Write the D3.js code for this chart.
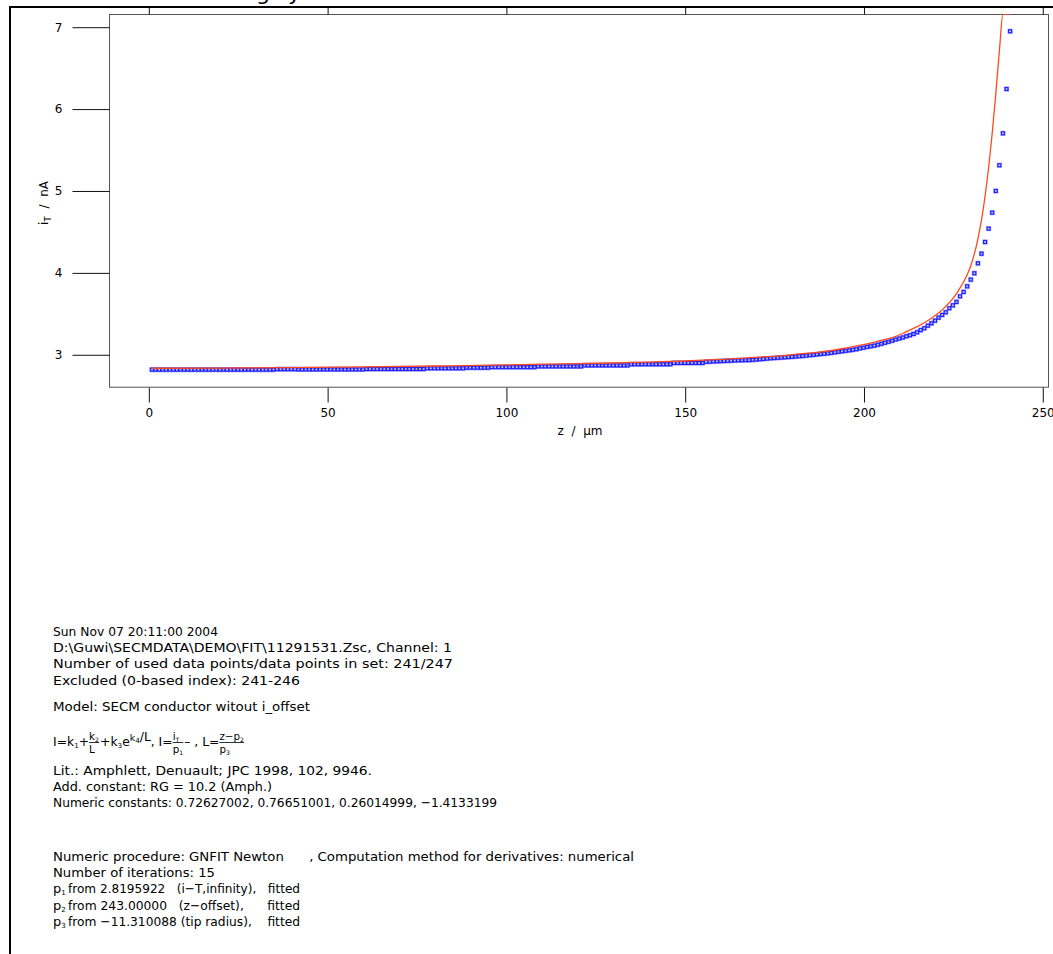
<!DOCTYPE html>
<html>
<head>
<meta charset="utf-8">
<script src="https://cdn.jsdelivr.net/npm/d3@7"></script>
<style>
  html, body { margin: 0; padding: 0; background: #ffffff; }
  svg { display: block; }
  text { font-family: "DejaVu Sans", "Liberation Sans", Arial, sans-serif; fill: #000; }
</style>
</head>
<body>
<script>
// ---------------- DATA ----------------
// measured points, z = 1..241 µm (241 used points)
const zPoints = d3.range(1, 242);
const iMeasured = [
  2.812,2.812,2.812,2.812,2.812,2.812,2.812,2.812,2.812,2.812,
  2.812,2.812,2.812,2.812,2.812,2.812,2.812,2.812,2.812,2.812,
  2.812,2.812,2.812,2.812,2.812,2.812,2.812,2.812,2.812,2.812,
  2.812,2.812,2.812,2.812,2.812,
  2.818,2.818,2.818,2.818,2.818,2.818,
  2.815,2.815,2.815,2.815,2.815,2.815,2.815,2.815,2.815,2.815,
  2.815,2.815,2.815,2.815,2.815,2.815,2.815,2.815,2.815,
  2.820,2.820,2.820,2.820,2.820,2.820,2.820,2.820,2.820,2.820,
  2.820,2.820,2.820,2.820,2.820,2.820,2.820,
  2.829,2.829,2.829,2.829,2.829,2.829,2.829,2.829,2.829,2.829,2.829,
  2.836,2.836,2.836,2.836,2.836,2.836,2.836,
  2.843,2.843,2.843,2.843,2.843,2.843,2.843,2.843,2.843,2.843,2.843,2.843,2.843,
  2.852,2.852,2.852,2.852,2.852,2.852,2.852,2.852,2.852,2.852,2.852,2.852,2.852,
  2.864,2.864,2.864,2.864,2.864,2.864,2.864,2.864,2.864,2.864,2.864,2.864,2.864,
  2.878,2.878,2.878,2.878,2.878,2.878,2.878,2.878,2.878,2.878,2.878,2.878,
  2.894,2.894,2.894,2.894,2.894,2.894,2.894,2.894,2.894,
  2.908,2.910,2.912,2.914,2.916,2.918,2.920,
  2.922,2.924,2.926,2.927,2.928,2.929,
  2.932,2.935,2.939,2.943,2.947,2.951,2.954,2.957,2.960,2.963,
  2.966,2.969,2.972,2.976,2.979,2.984,2.989,2.993,2.998,3.003,
  3.007,3.011,3.017,3.024,3.030,3.036,3.042,3.048,3.055,3.062,
  3.072,3.080,3.090,3.097,3.105,3.116,3.128,3.140,3.153,3.166,
  3.180,3.192,3.205,3.220,3.232,3.248,3.269,3.295,3.317,3.349,
  3.378,3.410,3.447,3.480,3.513,3.562,3.598,3.639,3.708,3.761,
  3.830,3.911,3.989,4.111,4.228,4.371,4.534,4.729,4.994,5.308,
  5.698,6.239,6.944
];
// fitted model curve
const fitZ = [1, 20, 40, 60, 80, 100, 120, 140, 150, 160, 168, 173, 178, 182, 187, 192, 196, 201,
  205.5, 209.3, 212, 215, 217, 219, 221, 223, 225, 226, 227, 228, 229, 230, 231, 232, 233, 234,
  235, 236, 237, 238, 239, 240, 241];
const fitI = [2.829, 2.832, 2.838, 2.847, 2.857, 2.870, 2.886, 2.905, 2.918, 2.938, 2.958, 2.971,
  2.983, 3.004, 3.024, 3.052, 3.085, 3.126, 3.175, 3.223, 3.276, 3.337, 3.385, 3.440, 3.505,
  3.585, 3.680, 3.740, 3.810, 3.885, 3.970, 4.080, 4.225, 4.410, 4.640, 4.930, 5.280, 5.700,
  6.180, 6.700, 7.250, 7.85, 8.5];
const xTicks = [0, 50, 100, 150, 200, 250];
const yTicks = [3, 4, 5, 6, 7];
const xDomain = [-11, 251.6];
const yDomain = [2.604, 7.155];

const infoLines1 = [
  "Sun Nov 07 20:11:00 2004",
  "D:\\Guwi\\SECMDATA\\DEMO\\FIT\\11291531.Zsc, Channel: 1",
  "Number of used data points/data points in set: 241/247",
  "Excluded (0-based index): 241-246"
];
const modelLine = "Model: SECM conductor witout i_offset";
const infoLines2 = [
  "Lit.: Amphlett, Denuault; JPC 1998, 102, 9946.",
  "Add. constant: RG = 10.2 (Amph.)",
  "Numeric constants: 0.72627002, 0.76651001, 0.26014999, \u22121.4133199"
];
const infoLines3 = [
  "Numeric procedure: GNFIT Newton      , Computation method for derivatives: numerical",
  "Number of iterations: 15"
];
const paramNames = ["1", "2", "3"];
const paramTexts = [
  "from 2.8195922   (i\u2212T,infinity),   fitted",
  "from 243.00000   (z\u2212offset),      fitted",
  "from \u221211.310088 (tip radius),    fitted"
];

// ---------------- LAYOUT ----------------
const W = 1053, H = 954;
const plot = { left: 109, right: 1048, top: 14, bottom: 386.7 };

const svg = d3.select("body").append("svg").attr("width", W).attr("height", H);

const x = d3.scaleLinear().domain(xDomain).range([plot.left, plot.right]);
const y = d3.scaleLinear().domain(yDomain).range([plot.bottom, plot.top]);
const yClamp = y.copy().clamp(true);

// page frame
svg.append("line").attr("x1", 10).attr("x2", W).attr("y1", 7).attr("y2", 7)
  .attr("stroke", "#000").attr("stroke-width", 2);
svg.append("line").attr("x1", 10).attr("x2", 10).attr("y1", 6).attr("y2", H)
  .attr("stroke", "#000").attr("stroke-width", 2);

// cut-off title remnants (title lies above the page edge)
svg.append("text").attr("x", 256).attr("y", -0.5).attr("font-size", 22)
  .attr("font-family", "Liberation Sans, Arial, sans-serif").text("g");
svg.append("text").attr("x", 288).attr("y", -0.5).attr("font-size", 22)
  .attr("font-family", "Liberation Sans, Arial, sans-serif").text("y");

// plot frame
svg.append("rect")
  .attr("x", plot.left + 0.5).attr("y", plot.top + 0.5)
  .attr("width", plot.right - plot.left).attr("height", plot.bottom - plot.top)
  .attr("fill", "none").attr("stroke", "#555").attr("stroke-width", 1);

// axes
const gx = svg.append("g").attr("transform", `translate(0.5,${Math.round(plot.bottom) + 0.5})`)
  .call(d3.axisBottom(x).tickValues(xTicks).tickSize(15).tickPadding(6).tickFormat(d3.format("d")));
const gxTop = svg.append("g").attr("transform", `translate(0.5,${plot.top + 0.5})`)
  .call(d3.axisTop(x).tickValues(xTicks).tickSize(7).tickFormat(""));
const gy = svg.append("g").attr("transform", `translate(${plot.left + 0.5},0.5)`)
  .call(d3.axisLeft(y).tickValues(yTicks).tickSize(37).tickPadding(10).tickFormat(d3.format("d")));
[gx, gxTop, gy].forEach(g => {
  g.select(".domain").remove();
  g.selectAll(".tick line").attr("stroke", "#111");
  g.selectAll("text").attr("font-size", 12)
    .attr("font-family", "DejaVu Sans, Liberation Sans, Arial, sans-serif").attr("fill", "#000");
});

// axis titles
svg.append("text").attr("x", 580).attr("y", 435).attr("text-anchor", "middle")
  .attr("font-size", 12).style("white-space", "pre").text("z  /  \u00b5m");
const yl = svg.append("text").attr("transform", "translate(48,203) rotate(-90)")
  .attr("text-anchor", "middle").attr("font-size", 12);
yl.append("tspan").text("i");
yl.append("tspan").attr("font-size", 9).attr("dy", 3).text("T");
yl.append("tspan").attr("dy", -3).style("white-space", "pre").text("  /  nA");

// clip
svg.append("clipPath").attr("id", "clip").append("rect")
  .attr("x", plot.left).attr("y", plot.top).attr("width", plot.right - plot.left)
  .attr("height", plot.bottom - plot.top);

const gData = svg.append("g").attr("clip-path", "url(#clip)");
const pts = zPoints.map((z, i) => [z, iMeasured[i]]);

// measured squares (soft halo + blue outline)
gData.selectAll("rect.halo").data(pts)
  .join("rect").attr("class", "halo")
  .attr("x", d => x(d[0]) - 1.5).attr("y", d => y(d[1]) - 1.5)
  .attr("width", 3).attr("height", 3)
  .attr("fill", "none").attr("stroke", "#a8a8ff").attr("stroke-width", 2.2);
gData.selectAll("rect.pt").data(pts)
  .join("rect").attr("class", "pt")
  .attr("x", d => x(d[0]) - 1.5).attr("y", d => y(d[1]) - 1.5)
  .attr("width", 3).attr("height", 3)
  .attr("fill", "none")
  .attr("stroke", "#1f1fff").attr("stroke-width", 1.1);

// fit curve
const line = d3.line().x(d => x(d[0])).y(d => yClamp(d[1])).curve(d3.curveMonotoneX);
gData.append("path").datum(fitZ.map((z, i) => [z, fitI[i]]))
  .attr("d", line).attr("fill", "none").attr("stroke", "#ff4a1c").attr("stroke-width", 1.3);

// ---------------- TEXT BLOCK ----------------
const tx = 53, fs = 13;
const lh = 16.2;
function infoText(t, yy, endX) {
  const el = svg.append("text").attr("x", tx).attr("y", yy).attr("font-size", fs)
    .style("white-space", "pre").text(t);
  if (endX) el.attr("textLength", endX - tx).attr("lengthAdjust", "spacingAndGlyphs");
  return el;
}
const ends1 = [218, 452, 453, 300];
infoLines1.forEach((t, i) => infoText(t, 636 + i * lh, ends1[i]));
infoText(modelLine, 711, 310);

// formula
const fBase = 746;
const fg = svg.append("g");
let cx = tx;
function plain(parts) {
  const t = fg.append("text").attr("x", cx).attr("y", fBase).attr("font-size", 12);
  parts.forEach(p => {
    const s = t.append("tspan").text(p[0]);
    if (p[1] === "sub") s.attr("font-size", 7).attr("dy", 2);
    else if (p[1] === "sup") s.attr("font-size", 9).attr("dy", -5);
    if (p[2] !== undefined) s.attr("dy", p[2]);
  });
  cx += t.node().getComputedTextLength();
}
function frac(num, den) {
  const tn = fg.append("text").attr("x", cx).attr("y", fBase - 6).attr("font-size", 10);
  num.forEach(p => { const s = tn.append("tspan").text(p[0]); if (p[1] === "sub") s.attr("font-size", 6).attr("dy", 2); });
  const td = fg.append("text").attr("x", cx).attr("y", fBase + 7).attr("font-size", 10);
  den.forEach(p => { const s = td.append("tspan").text(p[0]); if (p[1] === "sub") s.attr("font-size", 6).attr("dy", 2); });
  const w = Math.max(tn.node().getComputedTextLength(), td.node().getComputedTextLength());
  fg.append("line").attr("x1", cx).attr("x2", cx + w).attr("y1", fBase - 3.5).attr("y2", fBase - 3.5)
    .attr("stroke", "#000").attr("stroke-width", 0.8);
  cx += w + 1;
}
plain([["I=k"], ["1", "sub"], ["+", null, -2]]);
frac([["k"], ["2", "sub"]], [["L"]]);
plain([["+k"], ["3", "sub"], ["e", null, -2], ["k", "sup", -5], ["4", "sub"], ["/L", null, -2], [", I=", null, 5]]);
frac([["i"], ["T", "sub"]], [["p"], ["1", "sub"]]);
plain([["\u2013 , L="]]);
frac([["z\u2212p"], ["2", "sub"]], [["p"], ["3", "sub"]]);
const fWidth = cx - tx, fTarget = 245 - tx;
fg.attr("transform", `translate(${tx},0) scale(${fTarget / fWidth},1) translate(${-tx},0)`);

const ends2 = [372, 272, 497];
infoLines2.forEach((t, i) => infoText(t, 775 + i * lh, ends2[i]));
const ends3 = [634, 215];
infoLines3.forEach((t, i) => infoText(t, 861 + i * lh, ends3[i]));
paramNames.forEach((n, i) => {
  const yy = 861 + (i + 2) * lh;
  const t = svg.append("text").attr("x", tx).attr("y", yy).attr("font-size", fs);
  t.append("tspan").text("p");
  t.append("tspan").attr("font-size", 7).attr("dy", 2).text(n);
  svg.append("text").attr("x", tx + 15).attr("y", yy).attr("font-size", fs)
    .style("white-space", "pre").text(paramTexts[i])
    .attr("textLength", 300 - tx - 15).attr("lengthAdjust", "spacingAndGlyphs");
});
</script>
</body>
</html>
